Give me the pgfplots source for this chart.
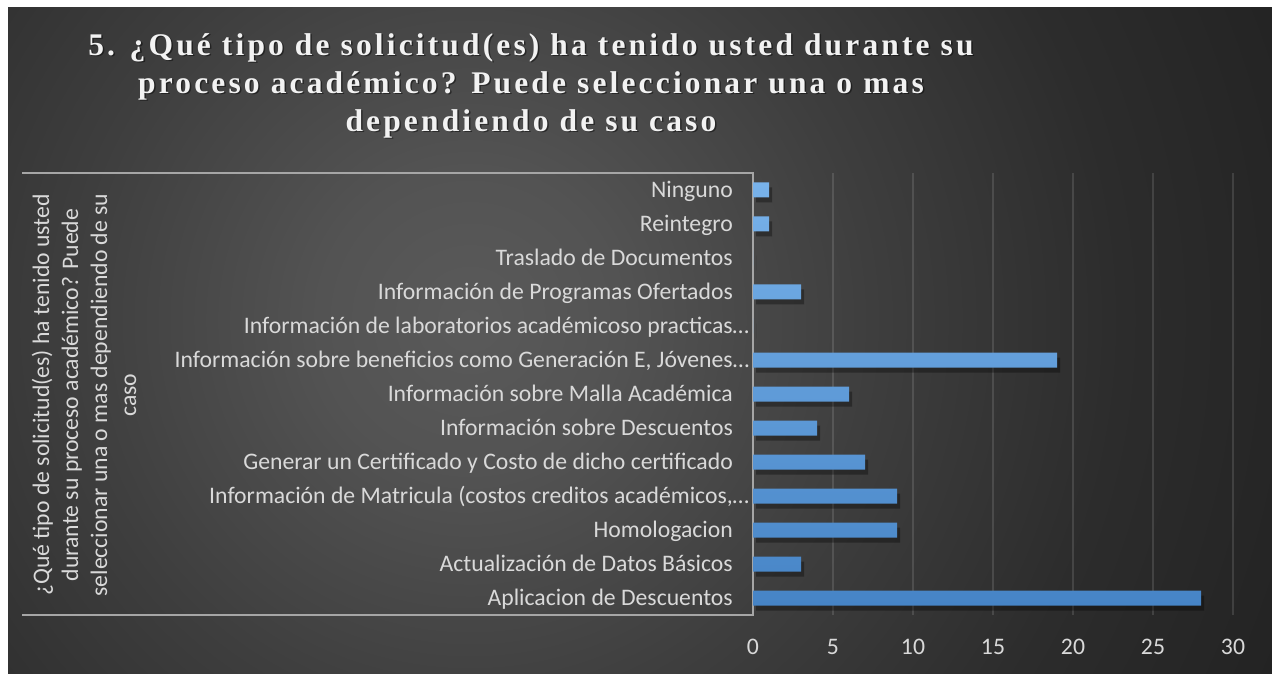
\documentclass[border=0pt]{standalone}
\usepackage{fontspec}
\setmainfont{Carlito}
\newfontfamily\titlefont[LetterSpace=10]{Liberation Serif}
\usepackage{pgfplots}
\pgfplotsset{compat=1.18}
\definecolor{bgA}{RGB}{90,90,90}
\definecolor{bgB}{RGB}{83,83,83}
\definecolor{bgC}{RGB}{62,62,62}
\definecolor{bgD}{RGB}{44,44,44}
\definecolor{bgE}{RGB}{34,34,34}
\definecolor{lbl}{RGB}{217,217,217}
\definecolor{titlec}{RGB}{242,242,242}
\definecolor{boxc}{RGB}{166,166,166}
\definecolor{bartop}{RGB}{120,178,234}
\definecolor{barbot}{RGB}{70,132,198}
\pgfdeclareradialshading{bgshade}{\pgfpoint{0bp}{0bp}}{color(0bp)=(bgA); color(150bp)=(bgB); color(400bp)=(bgC); color(650bp)=(bgD); color(900bp)=(bgE)}
\begin{document}
\begin{tikzpicture}[x=1pt,y=1pt]
\fill[white] (0,0) rectangle (1272,673);
\begin{scope}
\clip (8,0) rectangle (1272,665);
\node[inner sep=0pt] at (470,353) {\pgfuseshading{bgshade}};
\end{scope}
% title
\node[anchor=north, align=center, inner sep=0pt, text=black, opacity=0.45,
      font=\titlefont\bfseries\fontsize{31.5}{38}\selectfont] at (532.5,638.5)
  {5. ¿Qué tipo de solicitud(es) ha tenido usted durante su\\proceso académico? Puede seleccionar una o mas\\dependiendo de su caso};
\node[anchor=north, align=center, inner sep=0pt, text=titlec,
      font=\titlefont\bfseries\fontsize{31.5}{38}\selectfont] at (531,640)
  {5. ¿Qué tipo de solicitud(es) ha tenido usted durante su\\proceso académico? Puede seleccionar una o mas\\dependiendo de su caso};
% category-axis title
\node[rotate=90, align=center, inner sep=0pt, text=lbl,
      font=\fontsize{23.7}{29}\selectfont] at (84,278)
  {¿Qué tipo de solicitud(es) ha tenido usted\\durante su proceso académico? Puede\\seleccionar una o mas dependiendo de su\\caso};
% box lines
\draw[boxc, line width=1.8pt] (22,500) -- (754,500);
\draw[boxc, line width=1.8pt] (22,58) -- (754,58);
\begin{axis}[
  at={(753pt,58pt)}, anchor=south west,
  scale only axis, width=480pt, height=442pt,
  xmin=0, xmax=30, ymin=-0.5, ymax=12.5,
  enlargelimits=false, clip=false,
  xbar, bar width=15pt,
  axis x line*=bottom, axis y line*=left,
  x axis line style={draw=none},
  y axis line style={draw=boxc, line width=1.8pt},
  major tick length=0pt, tick style={draw=none},
  xtick={0,5,...,30},
  ytick={0,...,12},
  yticklabels={
    Aplicacion de Descuentos,
    Actualización de Datos Básicos,
    Homologacion,
    {Información de Matricula (costos creditos académicos,\rlap{…}},
    Generar un Certificado y Costo de dicho certificado,
    Información sobre Descuentos,
    Información sobre Malla Académica,
    {Información sobre beneficios como Generación E, Jóvenes\rlap{…}},
    {Información de laboratorios académicoso practicas\rlap{…}},
    Información de Programas Ofertados,
    Traslado de Documentos,
    Reintegro,
    Ninguno},
  xmajorgrids,
  major grid style={draw=white, opacity=0.12, line width=1.2pt},
  /pgf/number format/assume math mode=true,
  ticklabel style={font=\fontsize{23.7}{28}\selectfont, text=lbl, inner sep=0pt, text depth=0pt},
  yticklabel style={anchor=east, xshift=-20pt, text height=15.2pt},
  xticklabel style={anchor=center, yshift=-32pt, text height=14.9pt},
]
\addplot[draw=none, fill=black, opacity=0.33, bar shift=-5pt, xshift=3pt, forget plot]
  coordinates {(28,0) (3,1) (9,2) (9,3) (7,4) (4,5) (6,6) (19,7) (0,8) (3,9) (0,10) (1,11) (1,12)};
\addplot[draw=none, top color=bartop, bottom color=barbot, bar shift=0pt]
  coordinates {(28,0) (3,1) (9,2) (9,3) (7,4) (4,5) (6,6) (19,7) (0,8) (3,9) (0,10) (1,11) (1,12)};
\end{axis}
\end{tikzpicture}
\end{document}
